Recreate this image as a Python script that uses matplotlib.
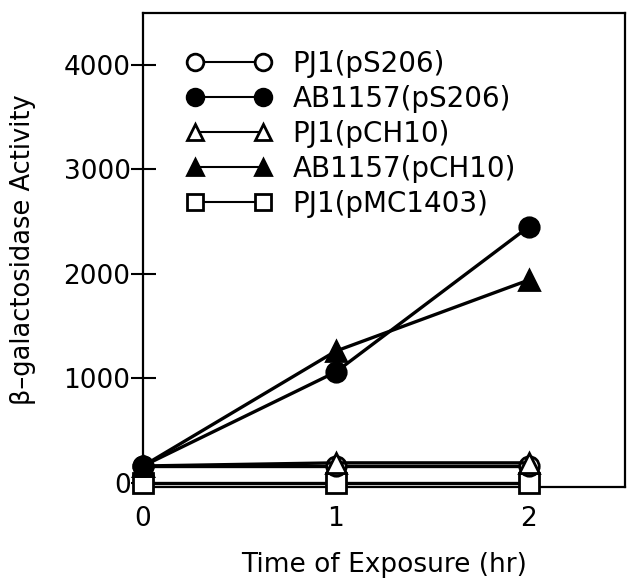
import matplotlib.pyplot as plt

# time points (hr)
hours = [0, 1, 2]

# beta-galactosidase activity
pj1_ps206 = [160, 160, 160]
ab1157_ps206 = [160, 1060, 2450]
pj1_pch10 = [160, 190, 190]
ab1157_pch10 = [160, 1260, 1940]
pj1_pmc1403 = [0, 0, 0]

plt.rcParams['font.family'] = ['DejaVu Sans']

fig = plt.figure(figsize=(6.3, 5.81), dpi=100)
ax = fig.add_axes([0.227, 0.162, 0.765, 0.816])

common = dict(color='black', linewidth=2.4, markersize=14, markeredgewidth=2, clip_on=False)

ax.plot(hours, pj1_pmc1403, marker='s', markerfacecolor='white', label='PJ1(pMC1403)', zorder=3, **common)
ax.plot(hours, pj1_ps206, marker='o', markerfacecolor='white', label='PJ1(pS206)', zorder=4, **common)
ax.plot(hours, pj1_pch10, marker='^', markerfacecolor='white', label='PJ1(pCH10)', zorder=5, **common)
ax.plot(hours, ab1157_pch10, marker='^', markerfacecolor='black', label='AB1157(pCH10)', zorder=6, **common)
ax.plot(hours, ab1157_ps206, marker='o', markerfacecolor='black', label='AB1157(pS206)', zorder=7, **common)

ax.set_xlim(0, 2.5)
ax.set_ylim(-40, 4500)
ax.set_xticks(hours)
ax.set_yticks([0, 1000, 2000, 3000, 4000])
ax.tick_params(axis='y', direction='inout', length=18, width=1.5, labelsize=19, pad=0)
ax.tick_params(axis='x', length=0, labelsize=19, pad=14)

for s in ax.spines.values():
    s.set_linewidth(1.6)

ax.set_xlabel('Time of Exposure (hr)', fontsize=19, labelpad=14)
ax.set_ylabel('β–galactosidase Activity', fontsize=18.5, labelpad=20)

# legend in the original's order
h, l = ax.get_legend_handles_labels()
order = ['PJ1(pS206)', 'AB1157(pS206)', 'PJ1(pCH10)', 'AB1157(pCH10)', 'PJ1(pMC1403)']
handles = [h[l.index(name)] for name in order]
leg = ax.legend(handles, order, loc='upper left', bbox_to_anchor=(0.091, 0.922),
                frameon=False, fontsize=20, handlelength=3.05, handletextpad=0.75,
                labelspacing=0.255, numpoints=2, borderaxespad=0, borderpad=0)
for lh in leg.legend_handles:
    lh.set_markersize(12)
    lh.set_linewidth(1.5)

fig.savefig('out.png', dpi=100)
